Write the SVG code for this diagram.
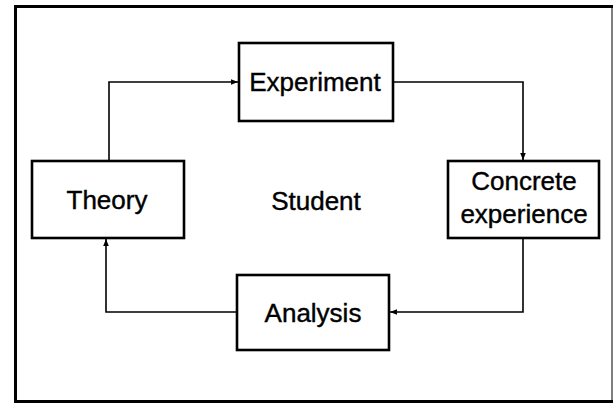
<svg xmlns="http://www.w3.org/2000/svg" width="613" height="404" viewBox="0 0 613 404">
<style>
.box{fill:#fff;stroke:#000;stroke-width:2.6}
.ln{fill:none;stroke:#000;stroke-width:1.6}
text{font-family:"Liberation Sans",Arial,sans-serif;font-size:26px;fill:#000;stroke:#000;stroke-width:0.4;text-anchor:middle}
</style>
<defs>
<marker id="ah" viewBox="0 0 10 10" refX="10" refY="5" markerWidth="7" markerHeight="7" orient="auto" markerUnits="userSpaceOnUse">
<path d="M0,1 L10,5 L0,9 Z" fill="#000"/>
</marker>
</defs>
<path d="M613,6.5 H15.5 V401.5 H613" fill="none" stroke="#000" stroke-width="3"/>
<path d="M612,6 V402" fill="none" stroke="#000" stroke-width="1"/>
<g id="connectors">
<path class="ln" d="M109,161 V82 H238" marker-end="url(#ah)"/>
<path class="ln" d="M393,82 H523 V160" marker-end="url(#ah)"/>
<path class="ln" d="M523,238 V312 H390" marker-end="url(#ah)"/>
<path class="ln" d="M237,312 H106 V239" marker-end="url(#ah)"/>
</g>
<g id="experiment"><rect class="box" x="239" y="43" width="154" height="78"/><text x="315" y="91">Experiment</text></g>
<g id="theory"><rect class="box" x="32" y="161" width="152" height="77"/><text x="107" y="209">Theory</text></g>
<g id="concrete"><rect class="box" x="448" y="161" width="151" height="77"/><text x="524" y="190">Concrete</text><text x="524" y="223">experience</text></g>
<g id="analysis"><rect class="box" x="237" y="275" width="152" height="75"/><text x="313" y="322">Analysis</text></g>
<g id="student"><text x="316" y="210">Student</text></g>
</svg>
